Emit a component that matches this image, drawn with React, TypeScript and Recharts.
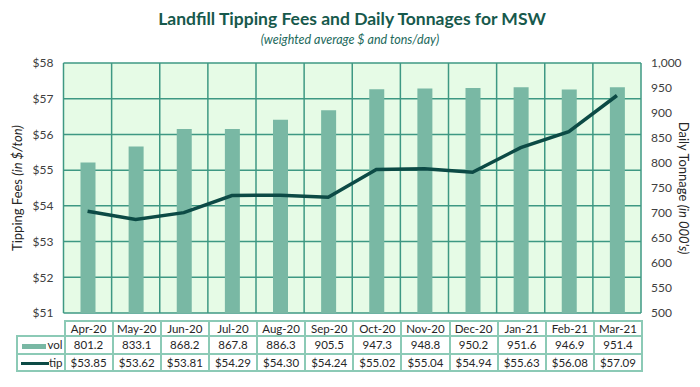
import React from "react";
import { ComposedChart, Bar, Line, XAxis, YAxis, CartesianGrid } from "recharts";

const months = ["Apr-20", "May-20", "Jun-20", "Jul-20", "Aug-20", "Sep-20", "Oct-20", "Nov-20", "Dec-20", "Jan-21", "Feb-21", "Mar-21"];
const vol = [801.2, 833.1, 868.2, 867.8, 886.3, 905.5, 947.3, 948.8, 950.2, 951.6, 946.9, 951.4];
const tip = [53.85, 53.62, 53.81, 54.29, 54.3, 54.24, 55.02, 55.04, 54.94, 55.63, 56.08, 57.09];
const feeTicks = [51, 52, 53, 54, 55, 56, 57, 58];
const tonTicks = [500, 550, 600, 650, 700, 750, 800, 850, 900, 950, 1000];

const FONT = "Lato, 'Noto Sans', sans-serif";
const BAR = "#79b8a4";
const LINE = "#0c4a45";
const GRID = "#3e9883";
const TBL = "#8ccab6";

const data = months.map((m, i) => ({ month: m, vol: vol[i], tip: tip[i] }));

const W = 700;
const H = 387;
const PLOT_L = 63.5;
const PLOT_R = 641;
const COL = (PLOT_R - PLOT_L) / months.length;

function DataTable() {
  const cell: React.CSSProperties = {
    border: `2px solid ${TBL}`,
    padding: 0,
    textAlign: "center",
    whiteSpace: "nowrap",
    overflow: "hidden",
  };
  return (
    <table
      style={{
        position: "absolute",
        left: 16,
        top: 320,
        borderCollapse: "collapse",
        tableLayout: "fixed",
        width: PLOT_R - 16,
        fontFamily: FONT,
        fontSize: 11.5,
        color: "#262626",
      }}
    >
      <colgroup>
        <col style={{ width: PLOT_L - 16 }} />
        {months.map((m) => (
          <col key={m} style={{ width: COL }} />
        ))}
      </colgroup>
      <tbody>
        <tr style={{ height: 15 }}>
          <td style={{ ...cell, border: "none" }} />
          {months.map((m) => (
            <td key={m} style={{ ...cell, lineHeight: "13px" }}>{m}</td>
          ))}
        </tr>
        <tr style={{ height: 17.5 }}>
          <td style={{ ...cell, textAlign: "right", paddingRight: 1 }}>
            <span style={{ display: "inline-block", width: 24, height: 5, background: BAR, verticalAlign: "middle", marginRight: 1 }} />
            vol
          </td>
          {vol.map((v, i) => (
            <td key={i} style={cell}>{v.toFixed(1)}</td>
          ))}
        </tr>
        <tr style={{ height: 17.5 }}>
          <td style={{ ...cell, textAlign: "right", paddingRight: 1 }}>
            <span style={{ display: "inline-block", width: 28, height: 3, background: LINE, verticalAlign: "middle" }} />
            tip
          </td>
          {tip.map((v, i) => (
            <td key={i} style={cell}>${v.toFixed(2)}</td>
          ))}
        </tr>
      </tbody>
    </table>
  );
}

export default function App() {
  return (
    <div style={{ position: "absolute", left: 0, top: 0, width: W, height: H, background: "#fff", fontFamily: FONT }}>
      <ComposedChart width={W} height={H} data={data} margin={{ top: 63, right: 0, bottom: 74, left: 0 }}>
        <text x={352} y={25} textAnchor="middle" fontFamily={FONT} fontWeight={700} fontSize={17.5} fill="#17594c">
          Landfill Tipping Fees and Daily Tonnages for MSW
        </text>
        <text x={350} y={44} textAnchor="middle" fontFamily={FONT} fontStyle="italic" fontSize={12.5} fill="#22695b">
          (weighted average $ and tons/day)
        </text>
        <CartesianGrid
          yAxisId="left"
          fill="#e6fbe6"
          fillOpacity={1}
          stroke={GRID}
          strokeWidth={1.5}
          verticalCoordinatesGenerator={({ offset }: any) =>
            months.map((_, i) => offset.left + (i * offset.width) / months.length).concat(offset.left + offset.width)
          }
        />
        <XAxis dataKey="month" hide />
        <YAxis
          yAxisId="left"
          width={PLOT_L}
          domain={[51, 58]}
          ticks={feeTicks}
          interval={0}
          tickFormatter={(v: number) => `$${v}`}
          axisLine={false}
          tickLine={false}
          tickSize={8}
          tickMargin={2}
          tick={{ fontSize: 12, fill: "#404040", fontFamily: FONT }}
        />
        <YAxis
          yAxisId="right"
          orientation="right"
          width={W - PLOT_R}
          domain={[500, 1000]}
          ticks={tonTicks}
          interval={0}
          tickFormatter={(v: number) => v.toLocaleString("en-US")}
          axisLine={false}
          tickLine={false}
          tickSize={8}
          tickMargin={2}
          tick={{ fontSize: 12, fill: "#404040", textAnchor: "start", fontFamily: FONT }}
        />
        <Bar yAxisId="right" dataKey="vol" fill={BAR} barSize={15} isAnimationActive={false} />
        <Line
          yAxisId="left"
          type="linear"
          dataKey="tip"
          stroke={LINE}
          strokeWidth={3.5}
          dot={false}
          isAnimationActive={false}
        />
        <text
          transform="translate(22,188) rotate(-90)"
          textAnchor="middle"
          fontFamily={FONT}
          fontSize={13}
          fill="#262626"
        >
          Tipping Fees <tspan fontStyle="italic">(in $/ton)</tspan>
        </text>
        <text
          transform="translate(679,188) rotate(90)"
          textAnchor="middle"
          fontFamily={FONT}
          fontSize={13}
          fill="#262626"
        >
          Daily Tonnage <tspan fontStyle="italic">(in 000's)</tspan>
        </text>
      </ComposedChart>
      <DataTable />
    </div>
  );
}
